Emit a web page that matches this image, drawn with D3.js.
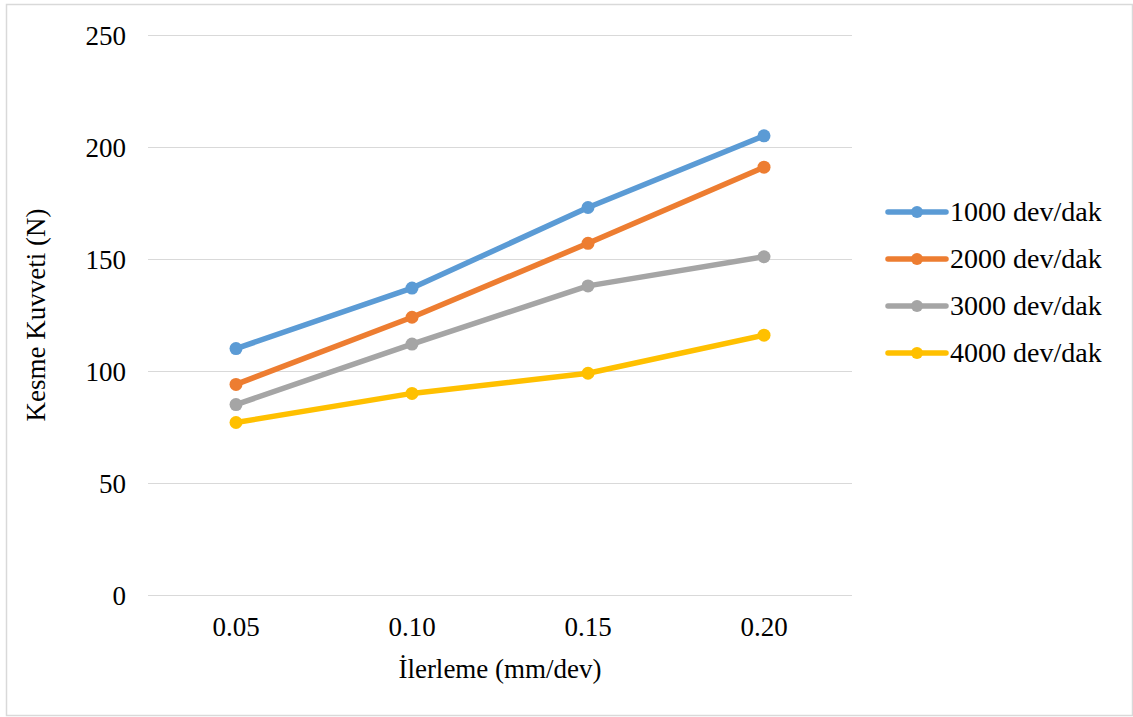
<!DOCTYPE html>
<html><head><meta charset="utf-8">
<script src="https://cdn.jsdelivr.net/npm/d3@7/dist/d3.min.js"></script>
<style>body{margin:0;background:#fff;} text{font-family:"Liberation Serif","Times New Roman",serif;fill:#000;}</style>
</head><body>
<svg id="c" width="1133" height="717"></svg>
<script>
const categories = ["0.05","0.10","0.15","0.20"];
const seriesNames = ["1000 dev/dak","2000 dev/dak","3000 dev/dak","4000 dev/dak"];
const s1000 = [110,137,173,205];
const s2000 = [94,124,157,191];
const s3000 = [85,112,138,151];
const s4000 = [77,90,99,116];
const yTicks = [0,50,100,150,200,250];
const colors = ["#5B9BD5","#ED7D31","#A5A5A5","#FFC000"];
const series = [s1000,s2000,s3000,s4000];

const FS = "27px";
const svg = d3.select("#c");
svg.append("rect").attr("x",6.5).attr("y",4.5).attr("width",1126).attr("height",711)
  .attr("fill","#fff").attr("stroke","#d9d9d9").attr("stroke-width",1.5);

const L=148,R=852,T=35,B=595;
const x = d3.scaleBand().domain(categories).range([L,R]);
const y = d3.scaleLinear().domain([0,250]).range([B,T]);

const grid = svg.append("g");
yTicks.forEach(t=>{
  grid.append("line").attr("x1",L).attr("x2",R).attr("y1",y(t)+0.5).attr("y2",y(t)+0.5)
    .attr("stroke","#d9d9d9").attr("stroke-width",1.2);
});

const yAxis = svg.append("g").attr("transform",`translate(${L},0)`)
  .call(d3.axisLeft(y).tickValues(yTicks).tickSize(0).tickPadding(22));
yAxis.select(".domain").remove();
yAxis.selectAll("text").style("font-size",FS).style("font-family","Liberation Serif").attr("dy","0.34em");

const xAxis = svg.append("g").attr("transform",`translate(0,${B})`)
  .call(d3.axisBottom(x).tickSize(0).tickPadding(22));
xAxis.select(".domain").remove();
xAxis.selectAll("text").style("font-size",FS).style("font-family","Liberation Serif");

svg.append("text").attr("x",500).attr("y",678).attr("text-anchor","middle")
  .style("font-size",FS).text("İlerleme (mm/dev)");
svg.append("text").attr("transform",`translate(45,${(T+B)/2}) rotate(-90)`).attr("text-anchor","middle")
  .style("font-size",FS).text("Kesme Kuvveti (N)");

const cx = c=>x(c)+x.bandwidth()/2;
const line = d3.line().x((d,i)=>cx(categories[i])).y(d=>y(d));
series.forEach((s,k)=>{
  const g = svg.append("g");
  g.append("path").datum(s).attr("d",line).attr("fill","none").attr("stroke",colors[k])
    .attr("stroke-width",5.5).attr("stroke-linejoin","round").attr("stroke-linecap","round");
  g.selectAll("circle").data(s).enter().append("circle")
    .attr("cx",(d,i)=>cx(categories[i])).attr("cy",d=>y(d)).attr("r",6.5).attr("fill",colors[k]);
});

const leg = svg.append("g");
seriesNames.forEach((n,k)=>{
  const yy = 212 + k*47;
  leg.append("line").attr("x1",888).attr("x2",946).attr("y1",yy).attr("y2",yy)
    .attr("stroke",colors[k]).attr("stroke-width",5.5).attr("stroke-linecap","round");
  leg.append("circle").attr("cx",917).attr("cy",yy).attr("r",6).attr("fill",colors[k]);
  leg.append("text").attr("x",950).attr("y",yy+9).style("font-size","28px").text(n);
});
</script>
</body></html>
